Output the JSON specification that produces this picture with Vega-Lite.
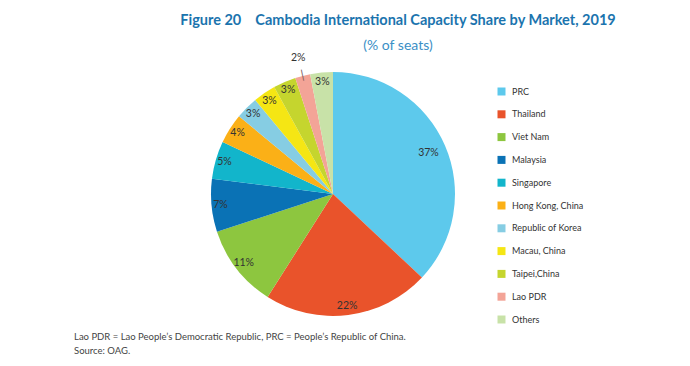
{
  "$schema": "https://vega.github.io/schema/vega-lite/v6.json",
  "background": "white",
  "autosize": {"type": "pad"},
  "padding": {"left": 74, "top": 13, "right": 10, "bottom": 4},
  "title": {
    "text": "Figure 20\u00a0\u00a0\u00a0\u00a0Cambodia International Capacity Share by Market, 2019",
    "subtitle": "(% of seats)",
    "anchor": "middle",
    "frame": "group",
    "dx": 65,
    "offset": -4,
    "font": "Lato",
    "fontSize": 14.5,
    "fontWeight": "bold",
    "color": "#1B74AE",
    "subtitleFont": "Lato",
    "subtitleFontSize": 14,
    "subtitleColor": "#3B8FC6",
    "subtitlePadding": 10
  },
  "data": {
    "values": [
      {"market": "PRC", "share": 0.37, "idx": 1},
      {"market": "Thailand", "share": 0.22, "idx": 2},
      {"market": "Viet Nam", "share": 0.11, "idx": 3},
      {"market": "Malaysia", "share": 0.07, "idx": 4},
      {"market": "Singapore", "share": 0.05, "idx": 5},
      {"market": "Hong Kong, China", "share": 0.04, "idx": 6},
      {"market": "Republic of Korea", "share": 0.03, "idx": 7},
      {"market": "Macau, China", "share": 0.03, "idx": 8},
      {"market": "Taipei,China", "share": 0.03, "idx": 9},
      {"market": "Lao PDR", "share": 0.02, "idx": 10},
      {"market": "Others", "share": 0.03, "idx": 11}
    ]
  },
  "resolve": {"legend": {"color": "independent"}, "scale": {"color": "independent"}},
  "vconcat": [
    {
      "width": 244,
      "height": 244,
      "title": {
        "text": "Lao PDR = Lao People’s Democratic Republic, PRC = People’s Republic of China.",
        "subtitle": "Source: OAG.",
        "orient": "bottom",
        "anchor": "start",
        "frame": "group",
        "dx": -137,
        "offset": -6,
        "font": "Lato",
        "fontSize": 9.5,
        "fontWeight": "normal",
        "color": "#444444",
        "subtitleFont": "Lato",
        "subtitleFontSize": 9.5,
        "subtitleColor": "#444444",
        "subtitlePadding": 4
      },
      "encoding": {
        "theta": {"field": "share", "type": "quantitative", "stack": true},
        "order": {"field": "idx", "type": "quantitative"}
      },
      "layer": [
        {
          "mark": {"type": "arc", "outerRadius": 122},
          "encoding": {
            "color": {
              "field": "market",
              "type": "nominal",
              "scale": {
                "domain": ["PRC", "Thailand", "Viet Nam", "Malaysia", "Singapore", "Hong Kong, China", "Republic of Korea", "Macau, China", "Taipei,China", "Lao PDR", "Others"],
                "range": ["#5DC9EC", "#E9532B", "#8DC63F", "#0A72B5", "#12B5CB", "#FBB017", "#86CDE3", "#F5E614", "#C5D52E", "#F3A497", "#C8E2A8"]
              },
              "legend": {
                "orient": "none",
                "legendX": 286,
                "legendY": 15,
                "title": null,
                "symbolType": "square",
                "symbolSize": 64,
                "symbolStrokeWidth": 0,
                "labelFont": "Lato",
                "labelFontSize": 9,
                "labelColor": "#333333",
                "labelOffset": 6,
                "rowPadding": 12.8
              }
            }
          }
        },
        {
          "mark": {"type": "text", "radius": 113, "font": "Lato", "fontSize": 10.5, "color": "#333333"},
          "encoding": {
            "detail": {"field": "market", "type": "nominal"},
            "text": {
              "condition": {"test": "datum.market !== 'Lao PDR' && datum.market !== 'PRC'", "field": "share", "type": "quantitative", "format": ".0%"},
              "value": ""
            }
          }
        },
        {
          "mark": {"type": "text", "radius": 104, "font": "Lato", "fontSize": 10.5, "color": "#333333"},
          "encoding": {
            "detail": {"field": "market", "type": "nominal"},
            "text": {
              "condition": {"test": "datum.market === 'PRC'", "field": "share", "type": "quantitative", "format": ".0%"},
              "value": ""
            }
          }
        },
        {
          "mark": {"type": "text", "radius": 140, "font": "Lato", "fontSize": 10.5, "color": "#333333"},
          "encoding": {
            "detail": {"field": "market", "type": "nominal"},
            "text": {
              "condition": {"test": "datum.market === 'Lao PDR'", "field": "share", "type": "quantitative", "format": ".0%"},
              "value": ""
            }
          }
        },
        {
          "mark": {"type": "text", "radius": 123, "angle": 348, "font": "Lato", "fontSize": 12, "color": "#7a5a5a"},
          "encoding": {
            "detail": {"field": "market", "type": "nominal"},
            "text": {
              "condition": {"test": "datum.market === 'Lao PDR'", "value": "|"},
              "value": ""
            }
          }
        }
      ]
    }
  ]
}
